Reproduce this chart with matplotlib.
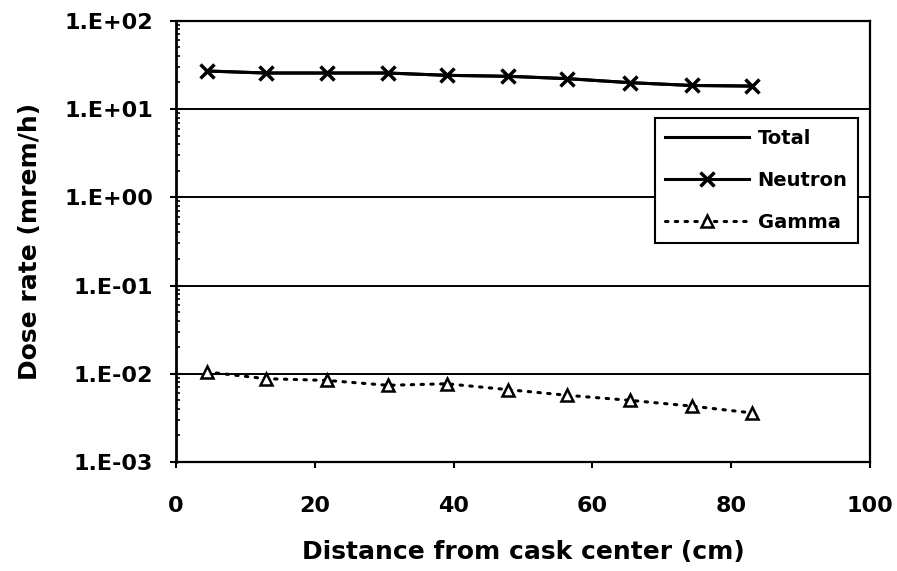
import numpy as np
import matplotlib
matplotlib.use("Agg")
import matplotlib.pyplot as plt

# distances (cm) and dose rates (mrem/h)
distance = [4.4, 12.9, 21.8, 30.5, 39.0, 47.9, 56.4, 65.4, 74.3, 83.0]
total = [27.0, 25.6, 25.6, 25.6, 24.1, 23.5, 22.1, 19.9, 18.5, 18.2]
neutron = [27.0, 25.6, 25.6, 25.6, 24.1, 23.5, 22.1, 19.9, 18.5, 18.2]
gamma = [0.0105, 0.0088, 0.0084, 0.0074, 0.0077, 0.0066, 0.0057, 0.0050, 0.0043, 0.0036]

x_ticks = [0, 20, 40, 60, 80, 100]
y_ticks = [1e-3, 1e-2, 1e-1, 1e0, 1e1, 1e2]
y_labels = ["1.E-03", "1.E-02", "1.E-01", "1.E+00", "1.E+01", "1.E+02"]

plt.rcParams['font.family'] = 'DejaVu Sans'
plt.rcParams['font.weight'] = 'bold'

W, H = 897, 571
fig = plt.figure(figsize=(W / 100, H / 100), dpi=100, facecolor='w')
ax = fig.add_axes([176 / W, 1 - 462 / H, (870 - 176) / W, (462 - 20.8) / H])

ax.set_yscale('log')
ax.set_xlim(0, 100)
ax.set_ylim(1e-3, 1e2)

# decade gridlines
for yv in y_ticks:
    ax.axhline(yv, color='black', lw=1.4, zorder=1)

ax.plot(distance, neutron, color='black', lw=2.2, marker='x', ms=10, mew=2.5,
        label='Neutron', zorder=3)
ax.plot(distance, total, color='black', lw=2.2, label='Total', zorder=3)
ax.plot(distance, gamma, color='black', lw=2.2, ls=(0, (0.8, 2.4)),
        dash_capstyle='round', marker='^', ms=8, mew=1.8, mfc='white',
        label='Gamma', zorder=3)

ax.set_xticks(x_ticks)
ax.set_yticks(y_ticks)
ax.set_yticklabels(y_labels)
ax.tick_params(axis='x', direction='out', length=4.5, width=1.5, labelsize=16, pad=20)
ax.tick_params(axis='y', which='major', direction='inout', length=9, width=1.5,
               labelsize=16, pad=12)
ax.tick_params(axis='y', which='minor', direction='in', length=3, width=1.2)
for lab in ax.get_xticklabels() + ax.get_yticklabels():
    lab.set_fontweight('bold')

for sp in ax.spines.values():
    sp.set_color('black')
    sp.set_linewidth(1.6)
ax.spines['left'].set_linewidth(2.0)

ax.set_xlabel('Distance from cask center (cm)', fontsize=18, fontweight='bold', labelpad=17)
ax.set_ylabel('Dose rate (mrem/h)', fontsize=18, fontweight='bold', labelpad=16)

handles, labels = ax.get_legend_handles_labels()
order = [1, 0, 2]
leg = ax.legend([handles[i] for i in order], [labels[i] for i in order],
                loc='upper right', bbox_to_anchor=(0.983, 0.78),
                fontsize=14, frameon=True, fancybox=False, framealpha=1,
                edgecolor='black', handlelength=4.3, handletextpad=0.45,
                labelspacing=1.2, borderpad=0.55, borderaxespad=0)
leg.get_frame().set_linewidth(1.5)
for t in leg.get_texts():
    t.set_fontweight('bold')

fig.savefig('out.png', dpi=100)
